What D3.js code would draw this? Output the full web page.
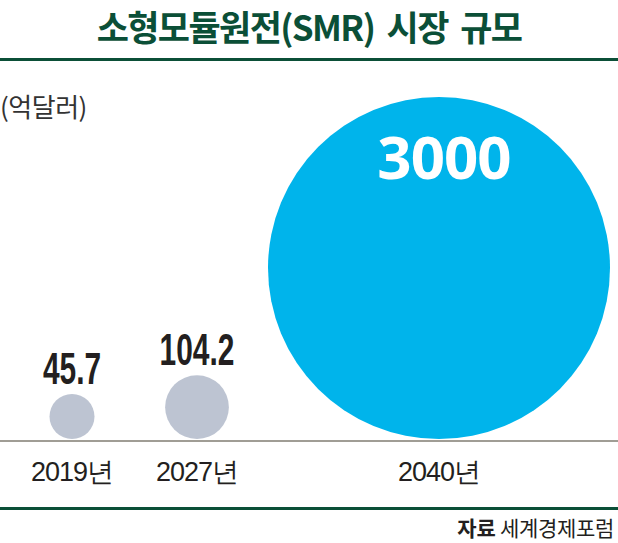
<!DOCTYPE html>
<html><head><meta charset="utf-8">
<script src="https://cdn.jsdelivr.net/npm/d3@7"></script>
<style>
html,body{margin:0;padding:0;background:#fff;}
svg{display:block;}
</style></head>
<body>
<script>
const title = "소형모듈원전(SMR) 시장 규모";
const unitLabel = "(억달러)";
const years = ["2019년", "2027년", "2040년"];
const values = [45.7, 104.2, 3000];
const valueLabels = ["45.7", "104.2", "3000"];
const sourceBold = "자료";
const sourceText = "세계경제포럼";

const W = 618, H = 543;
const baseY = 440;
const green = "#0b4f37";

const svg = d3.select("body").append("svg").attr("width", W).attr("height", H);

// title
svg.append("text")
  .attr("x", 309).attr("y", 41)
  .attr("text-anchor", "middle")
  .attr("font-family", "'Noto Sans CJK KR', sans-serif")
  .attr("font-weight", 700)
  .attr("font-size", 35)
  .attr("letter-spacing", -1.6)
  .attr("word-spacing", 6)
  .attr("fill", green)
  .text(title);

svg.append("rect").attr("x", 0).attr("y", 58).attr("width", W).attr("height", 3).attr("fill", green);

// unit
svg.append("text")
  .attr("x", 0).attr("y", 117)
  .attr("font-family", "'Noto Sans CJK KR', sans-serif")
  .attr("font-size", 26)
  .attr("letter-spacing", -0.5)
  .attr("fill", "#333")
  .text(unitLabel);

const data = years.map((y, i) => ({year: y, value: values[i], label: valueLabels[i]}));

const x = d3.scaleOrdinal().domain(years).range([72, 197, 439]);
const r = d3.scaleSqrt().domain([0, d3.max(values)]).range([0, 171]);
const color = d3.scaleOrdinal().domain(years).range(["#bdc4d2", "#bdc4d2", "#00b4eb"]);

svg.append("g").selectAll("circle").data(data).join("circle")
  .attr("cx", d => x(d.year))
  .attr("cy", d => baseY - Math.max(r(d.value), 22.5) - 1)
  .attr("r", d => Math.max(r(d.value), 22.5))
  .attr("fill", d => color(d.year));

// baseline
svg.append("rect").attr("x", 0).attr("y", baseY).attr("width", W).attr("height", 2).attr("fill", "#a09d95");

// value labels
data.forEach((d, i) => {
  const rr = Math.max(r(d.value), 22.5);
  const top = baseY - 1 - 2*rr;
  const big = i === data.length - 1;
  if (big) {
    svg.append("text")
      .attr("x", x(d.year) + 5).attr("y", top + 82)
      .attr("text-anchor", "middle")
      .attr("font-family", "'Noto Sans', 'Open Sans', sans-serif")
      .attr("font-weight", 700)
      .attr("font-size", 60)
      .attr("letter-spacing", -1)
      .attr("fill", "#fff")
      .text(d.label);
  } else {
    const cx = x(d.year);
    const ty = top - 10;
    svg.append("text")
      .attr("transform", `translate(${cx},${ty}) scale(0.68,1)`)
      .attr("text-anchor", "middle")
      .attr("font-family", "'Liberation Sans Narrow', 'Liberation Sans', sans-serif")
      .attr("font-weight", 700)
      .attr("font-size", 44)
      .attr("fill", "#231f20")
      .text(d.label);
  }
});

// year labels
svg.selectAll("text.year").data(data).join("text")
  .attr("class", "year")
  .attr("x", d => x(d.year))
  .attr("y", 481)
  .attr("text-anchor", "middle")
  .attr("font-family", "'Liberation Sans Narrow', 'Liberation Sans', sans-serif")
  .attr("font-size", 27)
  .attr("letter-spacing", -1)
  .attr("fill", "#231f20")
  .text(d => d.year);

svg.append("rect").attr("x", 0).attr("y", 507).attr("width", W).attr("height", 3).attr("fill", green);

const src = svg.append("text")
  .attr("x", 614).attr("y", 536)
  .attr("text-anchor", "end")
  .attr("font-family", "'Noto Sans CJK KR', sans-serif")
  .attr("font-size", 21)
  .attr("letter-spacing", -0.3)
  .attr("fill", "#231f20");
src.append("tspan").attr("font-weight", 700).text(sourceBold + " ");
src.append("tspan").text(sourceText);
</script>
</body></html>
